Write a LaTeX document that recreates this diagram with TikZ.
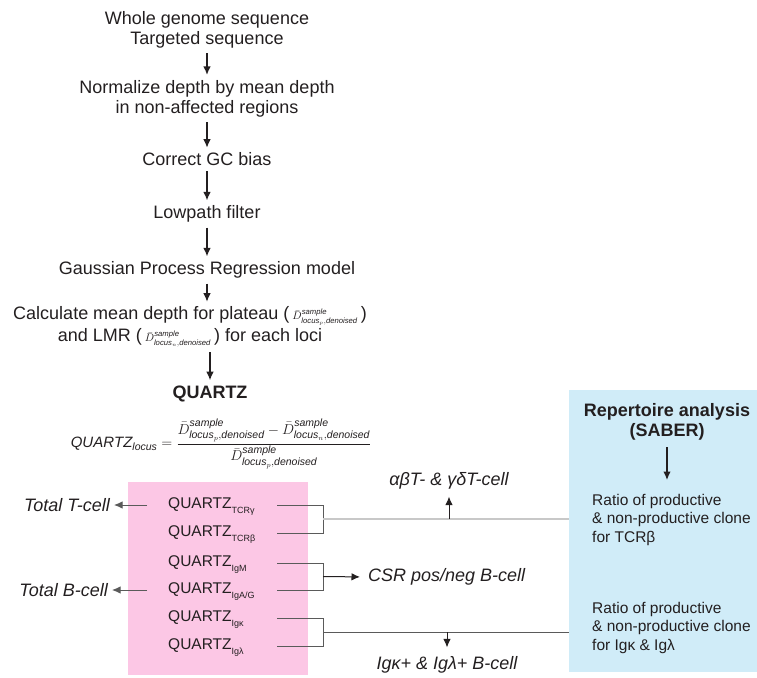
\documentclass[tikz,border=0pt]{standalone}
\usepackage{amsmath}
\usepackage{fontspec}
\setmainfont{Liberation Sans}
\usepackage{tikz}
\usetikzlibrary{positioning,arrows.meta,calc}

\definecolor{inkgray}{HTML}{231F20}
\definecolor{linegray}{HTML}{5A5A5A}
\definecolor{palegray}{HTML}{C8C8C8}
\definecolor{quartzpink}{HTML}{FCC7E5}
\definecolor{saberblue}{HTML}{D0ECF8}

\newcommand{\dsample}[1]{{\fontsize{11}{11}\selectfont$\bar{D}^{\mathit{sample}}_{\mathit{locus}_{#1},\mathit{denoised}}$}}
\newcommand{\qsub}[1]{QUARTZ\raisebox{-4.5pt}[0pt][0pt]{\fontsize{9}{9}\selectfont #1}}

\tikzset{
  >={Latex[length=8.5pt,width=7.5pt]},
  flowtext/.style={align=center, inner sep=0pt, text=inkgray, font=\fontsize{18}{20}\selectfont},
  flowarrow/.style={->, line width=1.3pt, draw=inkgray, shorten <=5pt, shorten >=5pt},
  rowtext/.style={anchor=west, inner sep=0pt, text=inkgray, font=\fontsize{15.5}{18}\selectfont},
  celltext/.style={inner sep=0pt, text=inkgray, font=\fontsize{18}{20}\selectfont\itshape},
  ratiotext/.style={anchor=north west, align=left, inner sep=0pt, text=inkgray, font=\fontsize{15.5}{18.5}\selectfont},
  bracket/.style={draw=linegray, line width=1pt},
}

\begin{document}
\begin{tikzpicture}[x=1pt, y=-1pt]
    \useasboundingbox (0,0) rectangle (757,677);
    % Boxes
    \node[fill=quartzpink, minimum width=180pt, minimum height=193pt, inner sep=0pt] (quartzbox) at (218,578.5) {};
    \node[fill=saberblue, minimum width=188pt, minimum height=282pt, inner sep=0pt] (saber) at (663,531) {};

    % Pipeline
    \node[flowtext] (wgs) at (207,29.5) {Whole genome sequence\\Targeted sequence};
    \node[flowtext] (norm) at (207,98.5) {Normalize depth by mean depth\\in non-affected regions};
    \node[flowtext] (gc) at (207,159.5) {Correct GC bias};
    \node[flowtext] (lowpath) at (207,214) {Lowpath filter};
    \node[flowtext] (gpr) at (207,270) {Gaussian Process Regression model};
    \node[flowtext, font=\fontsize{18}{22}\selectfont] (calc) at (190,327) {Calculate mean depth for plateau (\,\dsample{p}\,)\\and LMR (\,\dsample{n}\,) for each loci};
    \node[flowtext, font=\fontsize{18}{20}\selectfont\bfseries] (quartz) at (210,393.5) {QUARTZ};
    \node[inner sep=0pt, text=inkgray, font=\fontsize{15}{18}\selectfont] (formula) at (221,444) {$\mathit{QUARTZ}_{\mathit{locus}}=\dfrac{\bar{D}^{\mathit{sample}}_{\mathit{locus}_p,\mathit{denoised}}-\bar{D}^{\mathit{sample}}_{\mathit{locus}_n,\mathit{denoised}}}{\bar{D}^{\mathit{sample}}_{\mathit{locus}_p,\mathit{denoised}}}$};

    % Pipeline arrows
    \draw[flowarrow] (wgs) -- (norm);
    \draw[flowarrow] (norm) -- (gc);
    \draw[flowarrow] (gc) -- (lowpath);
    \draw[flowarrow] (lowpath) -- (gpr);
    \draw[flowarrow] (gpr) -- (gpr |- calc.north);
    \draw[flowarrow] (calc.south -| quartz) -- (quartz);

    % QUARTZ rows
    \node[rowtext] (tcrg) at (168,505) {\qsub{TCRγ}};
    \node[rowtext] (tcrb) at (168,533) {\qsub{TCRβ}};
    \node[rowtext] (igm) at (168,563) {\qsub{IgM}};
    \node[rowtext] (igag) at (168,590) {\qsub{IgA/G}};
    \node[rowtext] (igk) at (168,618) {\qsub{Igκ}};
    \node[rowtext] (igl) at (168,646) {\qsub{Igλ}};

    % Cell labels
    \node[celltext, anchor=east] (totalT) at (110,505) {Total T-cell};
    \node[celltext, anchor=east] (totalB) at (108,590) {Total B-cell};
    \node[celltext] (abcell) at (449,481) {αβT- \& γδT-cell};
    \node[celltext, anchor=west] (csr) at (368,577) {CSR pos/neg B-cell};
    \node[celltext] (igcell) at (447,665) {Igκ+ \& Igλ+ B-cell};

    % Repertoire analysis
    \node[flowtext, font=\fontsize{18}{20}\selectfont\bfseries] (repert) at (667,421.5) {Repertoire analysis\\(SABER)};
    \node[ratiotext] (ratioT) at (592,494) {Ratio of productive\\\& non-productive clone\\for TCRβ};
    \node[ratiotext] (ratioIg) at (592,602) {Ratio of productive\\\& non-productive clone\\for Igκ \& Igλ};
    \draw[flowarrow, shorten <=7pt, shorten >=14pt] (repert) -- (repert |- ratioT.north);

    % Brackets
    \draw[bracket] ([xshift=109pt]tcrg.west) -| ([xshift=155pt]tcrb.west) -- ([xshift=109pt]tcrb.west);
    \draw[bracket] ([xshift=109pt]igm.west) -| ([xshift=155pt]igag.west) -- ([xshift=109pt]igag.west);
    \draw[bracket] ([xshift=109pt]igk.west) -| ([xshift=155pt]igl.west) -- ([xshift=109pt]igl.west);
    \coordinate (tcrj) at ($(tcrg.west)!0.5!(tcrb.west)+(155,0)$);
    \coordinate (igj) at ($(igm.west)!0.5!(igag.west)+(155,0)$);
    \coordinate (klj) at ($(igk.west)!0.5!(igl.west)+(155,0)$);

    % Connectors
    \draw[draw=palegray, line width=1.3pt] (tcrj) -- (tcrj -| saber.west);
    \draw[bracket] (klj) -- (klj -| saber.west);
    \draw[->, draw=inkgray, line width=1pt, shorten >=7pt] (abcell |- tcrj) -- (abcell.south);
    \draw[->, draw=inkgray, line width=1pt, shorten >=9pt] (igcell |- klj) -- (igcell.north);
    \draw[->, draw=inkgray, line width=1pt, shorten >=8pt] (igj) -- (csr.west);
    \draw[->, draw=linegray, line width=1pt, shorten >=4pt] ([xshift=-21pt]tcrg.west) -- (totalT);
    \draw[->, draw=linegray, line width=1pt, shorten >=4pt] ([xshift=-21pt]igag.west) -- (totalB);
\end{tikzpicture}
\end{document}
